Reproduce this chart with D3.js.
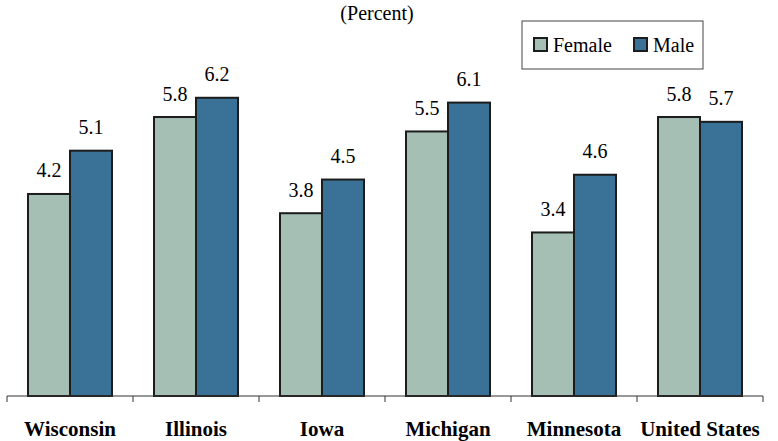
<!DOCTYPE html>
<html>
<head>
<meta charset="utf-8">
<script src="https://cdn.jsdelivr.net/npm/d3@7/dist/d3.min.js"></script>
</head>
<body style="margin:0">
<div id="chart"></div>
<script>
const categories = ["Wisconsin", "Illinois", "Iowa", "Michigan", "Minnesota", "United States"];
const series = ["Female", "Male"];
const female = [4.2, 5.8, 3.8, 5.5, 3.4, 5.8];
const male = [5.1, 6.2, 4.5, 6.1, 4.6, 5.7];
const colors = ["#a5bfb4", "#3a7297"];

const width = 778, height = 441;

const svg = d3.select("#chart")
    .append("svg")
    .attr("width", width)
    .attr("height", height);

// scales
let x = d3.scaleBand()
    .domain(categories)
    .range([7, 763]);

let xs = d3.scaleBand()
    .domain(series)
    .range([0, x.bandwidth()])
    .paddingOuter(0.5);

let y = d3.scaleLinear()
    .domain([0, 8])
    .range([396, 396 - 8 * 48.1]);

let rows = categories.map((c, i) => ({ cat: c, values: [female[i], male[i]] }));

// bars
let groups = svg.append("g").selectAll("g")
    .data(rows)
    .enter()
    .append("g")
    .attr("transform", d => "translate(" + x(d.cat) + ",0)");

groups.selectAll("rect")
    .data(d => d.values.map((v, j) => ({ s: series[j], v: v, j: j })))
    .enter()
    .append("rect")
    .attr("x", d => xs(d.s))
    .attr("y", d => y(d.v))
    .attr("width", xs.bandwidth())
    .attr("height", d => y(0) - y(d.v))
    .style("fill", d => colors[d.j])
    .style("stroke", "#1c1c1c")
    .style("stroke-width", 2);

// value labels
groups.selectAll(".val")
    .data(d => d.values.map((v, j) => ({ s: series[j], v: v })))
    .enter()
    .append("text")
    .attr("class", "val")
    .attr("x", d => xs(d.s) + xs.bandwidth() / 2)
    .attr("y", d => y(d.v) - 16.5)
    .attr("text-anchor", "middle")
    .style("font-family", d => "'Liberation Serif'")
    .style("font-size", "20px")
    .text(d => d.v.toFixed(1));

// x axis with ticks at group boundaries
let axis = svg.append("g");
axis.append("line")
    .attr("x1", x.range()[0]).attr("x2", x.range()[1])
    .attr("y1", y(0)).attr("y2", y(0))
    .style("stroke", "#333").style("stroke-width", 1);

let bounds = categories.map(c => x(c)).concat([x.range()[1]]);
axis.selectAll(".tick")
    .data(bounds)
    .enter()
    .append("line")
    .attr("x1", d => d).attr("x2", d => d)
    .attr("y1", y(0)).attr("y2", y(0) + 6)
    .style("stroke", "#333").style("stroke-width", 1);

axis.selectAll(".cat")
    .data(categories)
    .enter()
    .append("text")
    .attr("x", d => x(d) + x.bandwidth() / 2)
    .attr("y", 436)
    .attr("text-anchor", "middle")
    .style("font-family", d => "'Liberation Serif'")
    .style("font-size", "21px")
    .style("font-weight", "bold")
    .text(d => d);

// title
svg.append("text")
    .attr("x", 377)
    .attr("y", 20)
    .attr("text-anchor", "middle")
    .style("font-family", "'Liberation Serif'")
    .style("font-size", "20px")
    .text("(Percent)");

// legend
let legend = svg.append("g");
legend.append("rect")
    .attr("x", 522).attr("y", 21)
    .attr("width", 181).attr("height", 48)
    .style("fill", "#fff")
    .style("stroke", "#444")
    .style("stroke-width", 1);

let legendX = [534, 634];
legend.selectAll(".sw")
    .data(series)
    .enter()
    .append("rect")
    .attr("x", (d, i) => legendX[i])
    .attr("y", 38)
    .attr("width", 13).attr("height", 13)
    .style("fill", (d, i) => colors[i])
    .style("stroke", "#1c1c1c")
    .style("stroke-width", 2);

legend.selectAll(".lt")
    .data(series)
    .enter()
    .append("text")
    .attr("x", (d, i) => legendX[i] + 19)
    .attr("y", 52)
    .style("font-family", d => "'Liberation Serif'")
    .style("font-size", "20px")
    .text(d => d);
</script>
</body>
</html>
